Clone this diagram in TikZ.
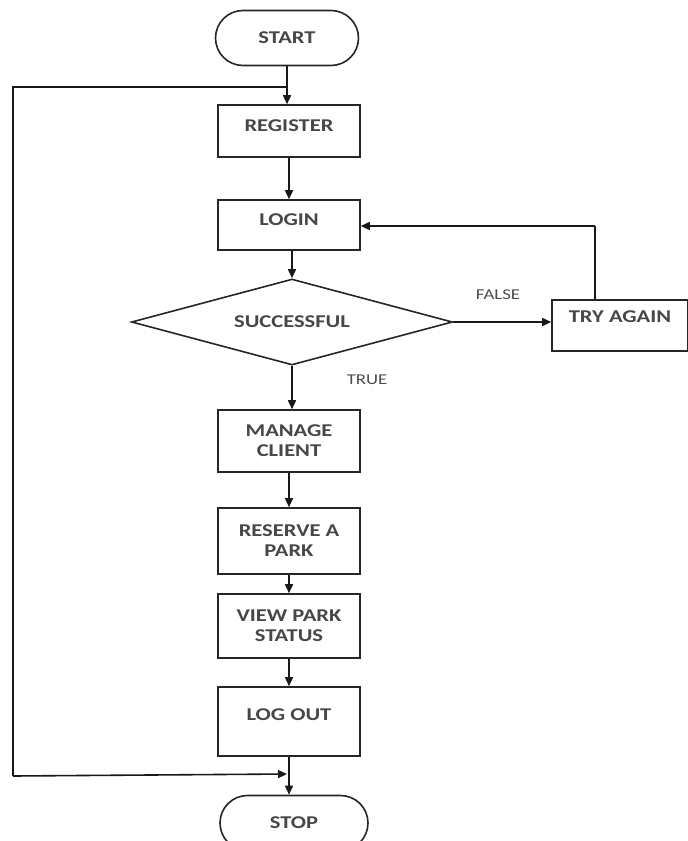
\documentclass[tikz,border=0pt]{standalone}
\usepackage{fontspec}
\setmainfont{Carlito}[FakeStretch=1.25]
\usetikzlibrary{shapes.geometric,shapes.misc,arrows.meta}
\begin{document}
\begin{tikzpicture}[x=1pt,y=-1pt,
  line width=1.6pt,
  every node/.style={font=\fontsize{18}{20}\selectfont\bfseries, text=black!72},
  boxnode/.style={draw=black!85, rectangle, minimum width=142pt, align=center, inner sep=2pt},
  termnode/.style={draw=black!85, rounded rectangle, minimum height=55pt, inner sep=2pt},
  decnode/.style={draw=black!85, diamond, aspect=3.73, inner sep=0pt, minimum width=321pt, minimum height=86pt},
  lbl/.style={font=\fontsize{15}{17}\selectfont, text=black!70},
  arr/.style={draw=black!90, -{Triangle[length=9pt,width=8pt]}},
  ln/.style={draw=black!90}
]
\clip (0,0) rectangle (688,841);
\fill[white] (0,0) rectangle (688,841);

\node[termnode, minimum width=147pt] (start) at (287,38) {START};
\node[boxnode, minimum height=52pt, text depth=10pt] (reg) at (289,131) {REGISTER};
\node[boxnode, minimum height=50pt, text depth=10pt] (login) at (289,225) {LOGIN};
\node[decnode] (succ) at (292,322) {SUCCESSFUL};
\node[boxnode, minimum width=136pt, minimum height=51pt, text depth=17pt] (try) at (620,325.5) {TRY AGAIN};
\node[boxnode, minimum height=62pt] (manage) at (289,441) {MANAGE\\CLIENT};
\node[boxnode, minimum height=66pt] (reserve) at (289,541) {RESERVE A\\PARK};
\node[boxnode, minimum height=64pt] (view) at (289,626) {VIEW PARK\\STATUS};
\node[boxnode, minimum height=69pt, text depth=14pt] (logout) at (289,721.5) {LOG OUT};
\node[termnode, minimum width=152pt] (stop) at (294,823) {STOP};

\node[lbl] (falselbl) at (498,295) {FALSE};
\node[lbl] (truelbl) at (367,380) {TRUE};

\coordinate (j1) at (287,87);
\coordinate (c1) at (13,87);
\coordinate (c2) at (13,776);
\coordinate (j2) at (287,774);
\coordinate (t1) at (595,226);

\draw[arr] (start.south) -- (start.south |- reg.north);
\draw[arr] (reg.south) -- (reg.south |- login.north);
\draw[arr] (292,250) -- (succ.north);
\draw[arr] (succ.east) -- (try.west |- succ.east);
\draw[ln] (try.north -| t1) -- (t1);
\draw[arr] (t1) -- (login.east |- t1);
\draw[arr] (succ.south) -- (succ.south |- manage.north);
\draw[arr] (manage.south) -- (reserve.north);
\draw[arr] (reserve.south) -- (view.north);
\draw[arr] (view.south) -- (logout.north);
\draw[arr] (logout.south) -- (logout.south |- stop.north);
\draw[ln] (j1) -- (c1) -- (c2);
\draw[arr] (c2) -- (j2);
\end{tikzpicture}
\end{document}
